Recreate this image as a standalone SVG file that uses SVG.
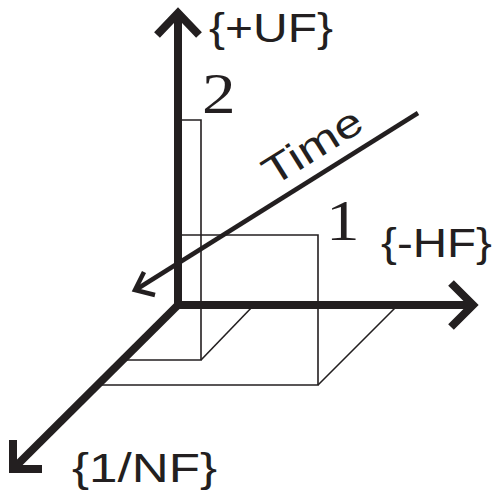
<svg xmlns="http://www.w3.org/2000/svg" width="494" height="501" viewBox="0 0 494 501">
<style>
.axis{fill:none;stroke:#231f20;stroke-width:8;stroke-linejoin:miter;stroke-linecap:butt}
.time{fill:none;stroke:#231f20;stroke-width:4.5;stroke-linejoin:miter}
.thin{fill:none;stroke:#231f20;stroke-width:1.6}
.sans{font-family:"Liberation Sans",Arial,sans-serif;font-size:40px;fill:#231f20}
.serif{font-family:"Liberation Serif","Times New Roman",serif;font-size:56px;fill:#231f20}
</style>
<rect width="494" height="501" fill="#fff"/>
<g id="bar2">
<polyline class="thin" points="178,120 201,120 201,360 126,360"/>
<line class="thin" x1="201" y1="360" x2="254" y2="305"/>
<text class="serif" transform="translate(202,113) scale(1.2,1)">2</text>
</g>
<g id="bar1">
<polyline class="thin" points="178,235 318,235 318,385 100,385"/>
<line class="thin" x1="318" y1="385" x2="398" y2="305"/>
<text class="serif" transform="translate(326,240) scale(1.2,1)">1</text>
</g>
<g id="connectors">
<path class="axis" d="M178,12 L178,305 L474,305"/>
<path class="axis" d="M181,302 L14,468"/>
<polyline class="axis" points="157,35 178,13 199,35"/>
<polyline class="axis" points="451,283 473,305 451,327"/>
<polyline class="axis" points="13,440 13,469 42,469"/>
<line class="time" x1="418" y1="113" x2="137" y2="289"/>
<polyline class="time" points="144,272 135,290 155,295"/>
</g>
<g id="labels">
<text class="sans" x="209" y="42" textLength="124" lengthAdjust="spacingAndGlyphs">{+UF}</text>
<text class="sans" x="381" y="257" textLength="111" lengthAdjust="spacingAndGlyphs">{-HF}</text>
<text class="sans" x="72" y="482" textLength="145" lengthAdjust="spacingAndGlyphs">{1/NF}</text>
<text class="sans" transform="translate(273,187) rotate(-32)" textLength="110" lengthAdjust="spacingAndGlyphs">Time</text>
</g>
</svg>
